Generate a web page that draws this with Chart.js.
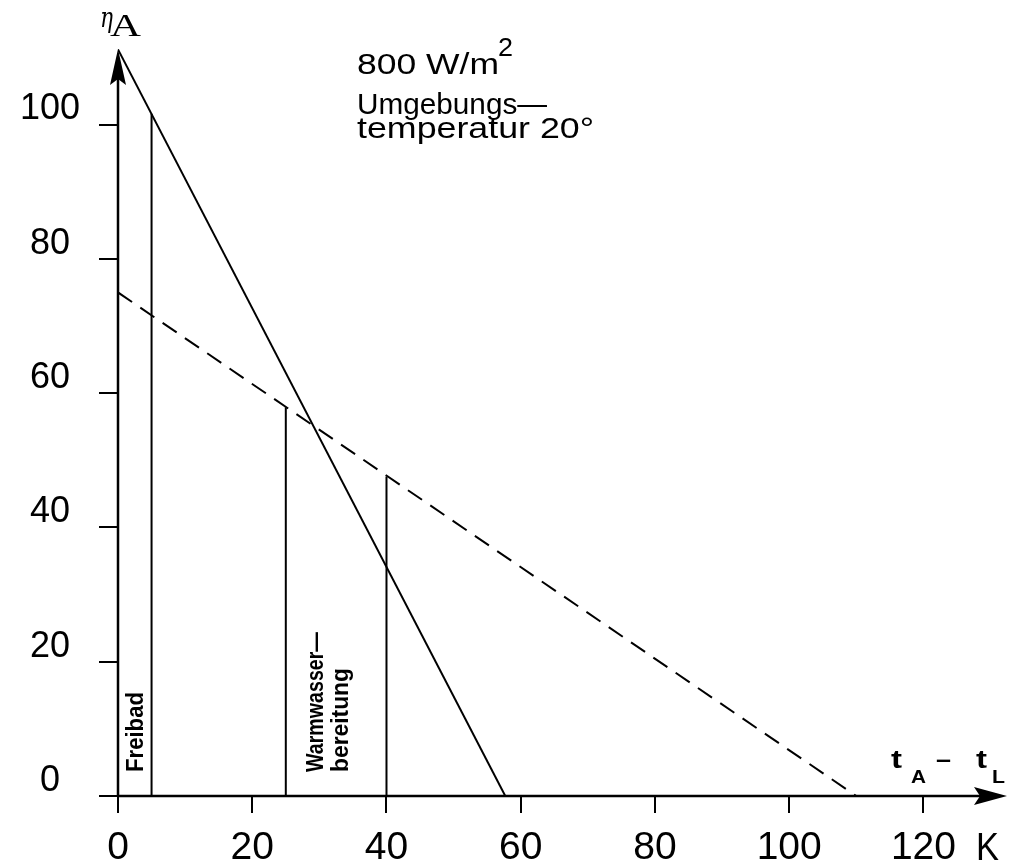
<!DOCTYPE html>
<html>
<head>
<meta charset="utf-8">
<script src="https://cdn.jsdelivr.net/npm/chart.js@4.4.0/dist/chart.umd.min.js"></script>
<style>
  html, body { margin: 0; padding: 0; background: #fff; }
  canvas { display: block; }
</style>
</head>
<body>
<canvas id="chart" width="1010" height="865"></canvas>
<script>
// ungedeckter Absorber (durchgezogen) und abgedeckter Kollektor (gestrichelt)
const absorberK = [0, 57.7];
const absorberEta = [111.2, 0];
const collectorK = [0, 110];
const collectorEta = [75, 0];

// Einsatzbereiche: Freibad, Warmwasser, Grenze
const zoneK = [5, 25, 40];
const zoneEta = [101.6, 57.9, 47.6];

const kTicks = [0, 20, 40, 60, 80, 100, 120];
const etaTicks = [0, 20, 40, 60, 80, 100];

const toPoints = (xs, ys) => xs.map((x, i) => ({ x: x, y: ys[i] }));

const lineStyle = {
    borderColor: '#000',
    borderWidth: 2,
    pointRadius: 0,
    showLine: true,
    fill: false,
    tension: 0
};

const datasets = [
    { ...lineStyle, data: toPoints(absorberK, absorberEta) },
    { ...lineStyle, data: toPoints(collectorK, collectorEta), borderDash: [17, 10] },
    ...zoneK.map((k, i) => ({ ...lineStyle, data: toPoints([k, k], [0, zoneEta[i]]) }))
];

function fitText(ctx, text, x, y, font, width, upright) {
    ctx.save();
    ctx.font = font;
    ctx.translate(x, y);
    if (upright) ctx.rotate(-Math.PI / 2);
    const w = ctx.measureText(text).width;
    if (width) ctx.scale(width / w, 1);
    ctx.fillText(text, 0, 0);
    ctx.restore();
}

const axesPlugin = {
    id: 'arrowAxes',
    afterDatasetsDraw(chart) {
        const { ctx, scales: { x, y } } = chart;
        const x0 = x.getPixelForValue(0);
        const y0 = y.getPixelForValue(0);
        const top = y.top + 5;
        const right = x.right + 3;

        ctx.save();
        ctx.strokeStyle = '#000';
        ctx.fillStyle = '#000';
        ctx.lineWidth = 2.5;
        ctx.beginPath();
        ctx.moveTo(x0, y0);
        ctx.lineTo(x0, top + 28);
        ctx.moveTo(x0, y0);
        ctx.lineTo(right - 25, y0);
        ctx.stroke();

        ctx.beginPath();
        ctx.moveTo(x0, top);
        ctx.lineTo(x0 - 8, top + 36);
        ctx.lineTo(x0, top + 30);
        ctx.lineTo(x0 + 8, top + 36);
        ctx.closePath();
        ctx.moveTo(right, y0);
        ctx.lineTo(right - 33, y0 - 9);
        ctx.lineTo(right - 27, y0);
        ctx.lineTo(right - 33, y0 + 9);
        ctx.closePath();
        ctx.fill();

        ctx.textAlign = 'left';
        ctx.textBaseline = 'alphabetic';
        const sans = '"Liberation Sans", Arial, sans-serif';
        const bold = 'bold 24px ' + sans;

        // Achsentitel
        fitText(ctx, 'η', 100, 27, 'italic 28px "DejaVu Serif", serif', 13);
        fitText(ctx, 'A', 110, 36, '32px "Liberation Serif", serif', 31);
        fitText(ctx, 't', 891, 768, 'bold 25px ' + sans, 11);
        fitText(ctx, 'A', 911, 783, 'bold 19px ' + sans, 15);
        fitText(ctx, '–', 936, 767, 'bold 24px ' + sans, 15);
        fitText(ctx, 't', 976, 768, 'bold 25px ' + sans, 11);
        fitText(ctx, 'L', 992, 783, 'bold 19px ' + sans, 13);
        fitText(ctx, 'K', 976, 860, '39px ' + sans, 23);

        // Bedingungen
        fitText(ctx, '800 W/m', 357, 74, '29px ' + sans, 142);
        fitText(ctx, '2', 498, 56, '25px ' + sans, 15);
        fitText(ctx, 'Umgebungs—', 357, 114, '30px ' + sans, 190);
        fitText(ctx, 'temperatur 20°', 357, 138, '30px ' + sans, 237);

        // Bereiche (senkrecht)
        fitText(ctx, 'Freibad', 143, 772, bold, 80, true);
        fitText(ctx, 'Warmwasser—', 323, 772, bold, 140, true);
        fitText(ctx, 'bereitung', 348, 772, bold, 104, true);
        ctx.restore();
    }
};

const tickGrid = (len) => ({
    drawOnChartArea: false,
    drawTicks: true,
    tickLength: len,
    color: '#000',
    lineWidth: 2
});

new Chart(document.getElementById('chart'), {
    type: 'scatter',
    data: { datasets: datasets },
    options: {
        responsive: false,
        animation: false,
        layout: { padding: { top: 44, right: 6, left: 0, bottom: 0 } },
        plugins: {
            legend: { display: false },
            tooltip: { enabled: false }
        },
        scales: {
            x: {
                type: 'linear',
                min: 0,
                max: 132,
                afterFit: (s) => { s.height = 69; },
                afterBuildTicks: (s) => { s.ticks = kTicks.map(v => ({ value: v })); },
                grid: tickGrid(17),
                border: { display: false },
                ticks: {
                    color: '#000',
                    autoSkip: false,
                    maxRotation: 0,
                    padding: 12,
                    font: { family: '"Liberation Sans", Arial, sans-serif', size: 39 }
                }
            },
            y: {
                type: 'linear',
                min: 0,
                max: 112,
                afterFit: (s) => { s.width = 118; },
                afterBuildTicks: (s) => { s.ticks = etaTicks.map(v => ({ value: v })); },
                grid: tickGrid(19),
                border: { display: false },
                ticks: {
                    color: '#000',
                    autoSkip: false,
                    padding: 19,
                    crossAlign: 'center',
                    labelOffset: -15,
                    font: { family: '"Liberation Sans", Arial, sans-serif', size: 36 }
                }
            }
        }
    },
    plugins: [axesPlugin]
});
</script>
</body>
</html>
